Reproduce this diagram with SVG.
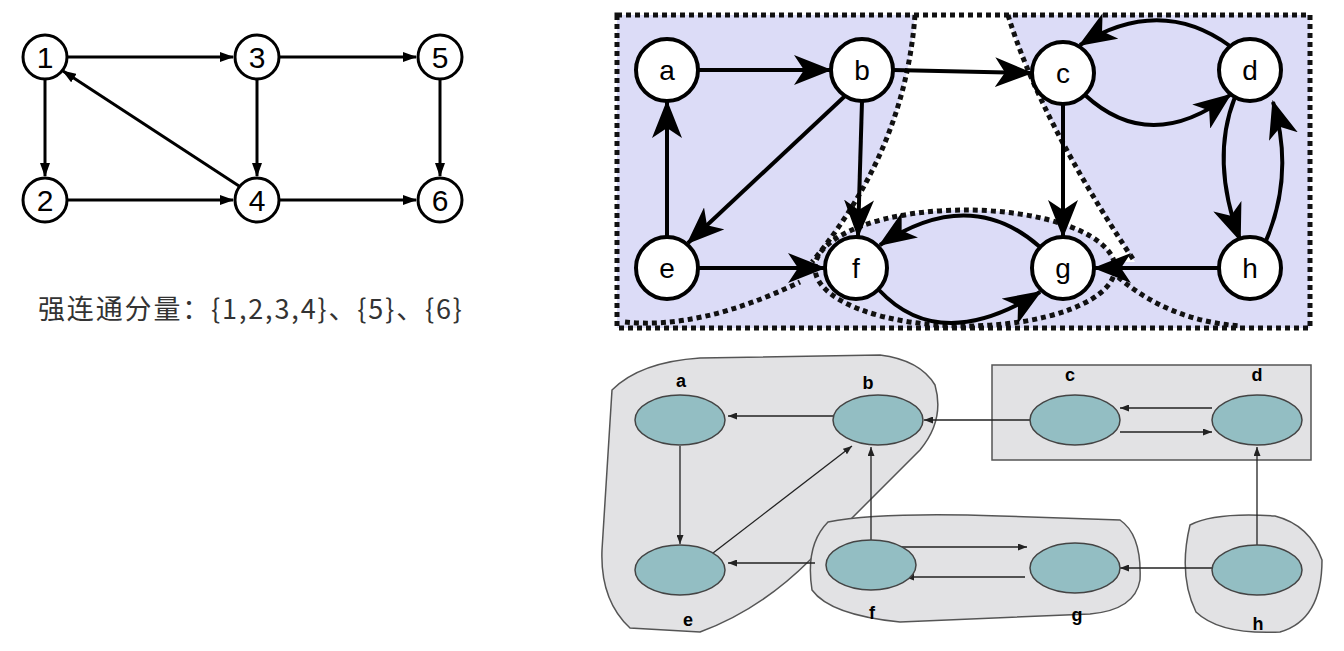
<svg xmlns="http://www.w3.org/2000/svg" width="1344" height="651" viewBox="0 0 1344 651">
<style>
.n1{fill:#fff;stroke:#000;stroke-width:3}
.t1{font-family:"Liberation Sans",sans-serif;font-size:30px;text-anchor:middle;dominant-baseline:central}
.e1{stroke:#000;stroke-width:3;fill:none;marker-end:url(#ma)}
.n2{fill:#fff;stroke:#000;stroke-width:4}
.t2{font-family:"Liberation Sans",sans-serif;font-size:28px;text-anchor:middle;dominant-baseline:central}
.e2{stroke:#000;stroke-width:4;fill:none;marker-end:url(#mb)}
.dot{fill:none;stroke:#111;stroke-width:5;stroke-dasharray:5 4}
.n3{fill:#93bec3;stroke:#444;stroke-width:1.5}
.t3{font-family:"Liberation Sans",sans-serif;font-size:18px;font-weight:bold;text-anchor:middle}
.e3{stroke:#222;stroke-width:1.3;fill:none;marker-end:url(#mc)}
.grp{fill:#e2e2e4;stroke:#555;stroke-width:1.5}
</style>
<defs>
<marker id="ma" markerWidth="14" markerHeight="10" refX="13" refY="5" orient="auto" markerUnits="userSpaceOnUse"><path d="M0,0 L14,5 L0,10 Z" fill="#000"/></marker>
<marker id="mb" markerWidth="38" markerHeight="30" refX="36" refY="15" orient="auto" markerUnits="userSpaceOnUse"><path d="M0,0 L38,15 L0,30 L10,15 Z" fill="#000"/></marker>
<marker id="mc" markerWidth="9" markerHeight="7" refX="9" refY="3.5" orient="auto" markerUnits="userSpaceOnUse"><path d="M0,0 L9,3.5 L0,7 Z" fill="#222"/></marker>
</defs>
<rect width="1344" height="651" fill="#fff"/>

<!-- left graph -->
<g id="edges1">
<line class="e1" x1="68" y1="57" x2="233" y2="57"/>
<line class="e1" x1="280" y1="57" x2="416" y2="57"/>
<line class="e1" x1="45" y1="80" x2="45" y2="176"/>
<line class="e1" x1="68" y1="200" x2="233" y2="200"/>
<line class="e1" x1="239" y1="186" x2="63" y2="71"/>
<line class="e1" x1="257" y1="80" x2="257" y2="176"/>
<line class="e1" x1="280" y1="200" x2="416" y2="200"/>
<line class="e1" x1="440" y1="80" x2="440" y2="176"/>
</g>
<g id="n1"><circle class="n1" cx="45" cy="57" r="22"/><text class="t1" x="45" y="57">1</text></g>
<g id="n2"><circle class="n1" cx="45" cy="200" r="22"/><text class="t1" x="45" y="200">2</text></g>
<g id="n3"><circle class="n1" cx="257" cy="57" r="22"/><text class="t1" x="257" y="57">3</text></g>
<g id="n4"><circle class="n1" cx="257" cy="200" r="22"/><text class="t1" x="257" y="200">4</text></g>
<g id="n5"><circle class="n1" cx="440" cy="57" r="22"/><text class="t1" x="440" y="57">5</text></g>
<g id="n6"><circle class="n1" cx="440" cy="200" r="22"/><text class="t1" x="440" y="200">6</text></g>
<text x="38" y="319" font-family="'Noto Sans CJK SC',sans-serif" font-size="27" fill="#333" textLength="424">强连通分量：{1,2,3,4}、{5}、{6}</text>

<!-- top right -->
<g id="regions2">
<rect x="617" y="15" width="693" height="313" fill="#dcdcf7"/>
<path d="M915,15 Q905,150 812,262 L1135,262 Q1040,120 1008,15 Z" fill="#fff"/>
<ellipse cx="965" cy="268" rx="150" ry="58" fill="#dcdcf7"/>
<rect class="dot" x="617" y="15" width="693" height="313"/>
<path class="dot" d="M915,15 Q905,150 812,262"/>
<path class="dot" d="M1008,15 Q1040,120 1135,262"/>
<path class="dot" d="M625,322 Q700,330 800,282"/>
<path class="dot" d="M1105,265 Q1160,320 1240,326"/>
<ellipse class="dot" cx="965" cy="268" rx="150" ry="58"/>
</g>
<g id="edges2">
<line class="e2" x1="698" y1="70" x2="830" y2="70"/>
<line class="e2" x1="893" y1="70" x2="1031" y2="73"/>
<line class="e2" x1="845" y1="96" x2="688" y2="243"/>
<line class="e2" x1="862" y1="101" x2="858" y2="236"/>
<line class="e2" x1="667" y1="237" x2="667" y2="102"/>
<line class="e2" x1="698" y1="268" x2="824" y2="268"/>
<line class="e2" x1="1063" y1="104" x2="1063" y2="236"/>
<line class="e2" x1="1219" y1="268" x2="1095" y2="268"/>
<path class="e2" d="M1230,46 Q1160,-5 1080,45"/>
<path class="e2" d="M1085,95 Q1150,155 1230,95"/>
<path class="e2" d="M1235,97 Q1210,160 1240,240"/>
<path class="e2" d="M1265,243 Q1295,175 1273,102"/>
<path class="e2" d="M1040,247 Q970,185 880,245"/>
<path class="e2" d="M879,290 Q940,355 1040,292"/>
</g>
<g id="na"><circle class="n2" cx="667" cy="70" r="31"/><text class="t2" x="667" y="70">a</text></g>
<g id="nb"><circle class="n2" cx="862" cy="70" r="31"/><text class="t2" x="862" y="70">b</text></g>
<g id="nc"><circle class="n2" cx="1063" cy="73" r="31"/><text class="t2" x="1063" y="73">c</text></g>
<g id="nd"><circle class="n2" cx="1250" cy="70" r="31"/><text class="t2" x="1250" y="70">d</text></g>
<g id="ne"><circle class="n2" cx="667" cy="268" r="31"/><text class="t2" x="667" y="268">e</text></g>
<g id="nf"><circle class="n2" cx="856" cy="268" r="31"/><text class="t2" x="856" y="268">f</text></g>
<g id="ng"><circle class="n2" cx="1063" cy="268" r="31"/><text class="t2" x="1063" y="268">g</text></g>
<g id="nh"><circle class="n2" cx="1250" cy="268" r="31"/><text class="t2" x="1250" y="268">h</text></g>

<!-- bottom right -->
<g id="groups3">
<path class="grp" d="M612,390 Q640,362 700,358 L880,355 Q920,360 935,385 Q945,420 920,450 L810,560 Q760,610 700,632 L630,628 Q600,600 602,550 Z"/>
<rect class="grp" x="992" y="365" width="319" height="95"/>
<path class="grp" d="M828,522 Q880,512 1000,516 L1120,520 Q1142,535 1140,580 Q1135,610 1090,614 L900,622 Q830,615 812,590 Q805,545 828,522 Z"/>
<path class="grp" d="M1190,525 Q1215,512 1275,516 Q1310,525 1322,560 Q1322,620 1280,632 Q1220,635 1196,612 Q1178,575 1190,525 Z"/>
</g>
<g id="edges3">
<line class="e3" x1="833" y1="416" x2="728" y2="416"/>
<line class="e3" x1="680" y1="446" x2="680" y2="544"/>
<line class="e3" x1="713" y1="553" x2="852" y2="446"/>
<line class="e3" x1="871" y1="540" x2="871" y2="447"/>
<line class="e3" x1="815" y1="563" x2="728" y2="563"/>
<line class="e3" x1="896" y1="547" x2="1027" y2="547"/>
<line class="e3" x1="1025" y1="577" x2="905" y2="577"/>
<line class="e3" x1="1030" y1="420" x2="924" y2="420"/>
<line class="e3" x1="1212" y1="408" x2="1120" y2="408"/>
<line class="e3" x1="1120" y1="432" x2="1212" y2="432"/>
<line class="e3" x1="1212" y1="568" x2="1120" y2="568"/>
<line class="e3" x1="1257" y1="545" x2="1257" y2="447"/>
</g>
<g id="a3"><ellipse class="n3" cx="680" cy="420" rx="45" ry="25"/><text class="t3" x="681" y="387">a</text></g>
<g id="b3"><ellipse class="n3" cx="878" cy="420" rx="45" ry="25"/><text class="t3" x="868" y="389">b</text></g>
<g id="c3"><ellipse class="n3" cx="1075" cy="420" rx="45" ry="25"/><text class="t3" x="1070" y="381">c</text></g>
<g id="d3"><ellipse class="n3" cx="1257" cy="420" rx="45" ry="25"/><text class="t3" x="1257" y="381">d</text></g>
<g id="e3"><ellipse class="n3" cx="680" cy="570" rx="45" ry="25"/><text class="t3" x="688" y="626">e</text></g>
<g id="f3"><ellipse class="n3" cx="871" cy="565" rx="45" ry="25"/><text class="t3" x="872" y="619">f</text></g>
<g id="g3"><ellipse class="n3" cx="1075" cy="568" rx="45" ry="25"/><text class="t3" x="1077" y="621">g</text></g>
<g id="h3"><ellipse class="n3" cx="1257" cy="570" rx="45" ry="25"/><text class="t3" x="1258" y="630">h</text></g>
</svg>
